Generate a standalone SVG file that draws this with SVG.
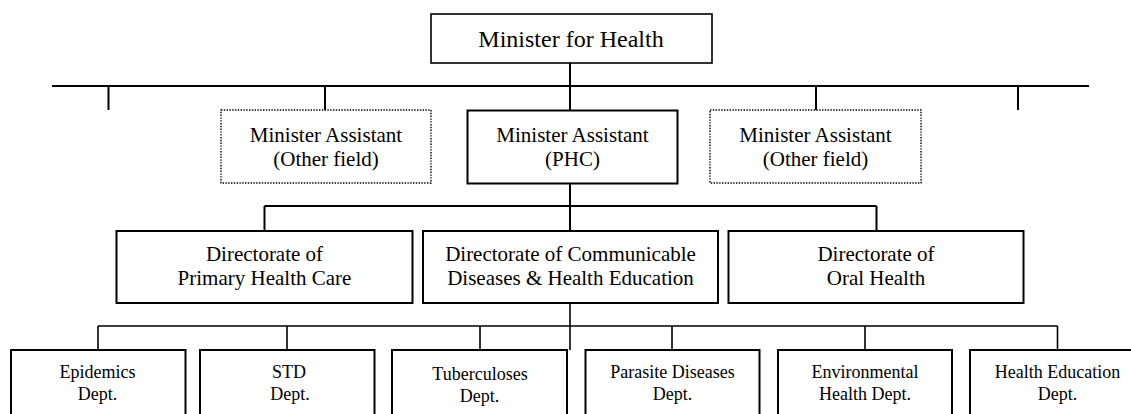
<svg xmlns="http://www.w3.org/2000/svg" width="1131" height="414" viewBox="0 0 1131 414">
<style>
text{font-family:"Liberation Serif","Times New Roman",serif;fill:#000;text-anchor:middle}
.box{fill:#fff;stroke:#000;stroke-width:2}
.thin{fill:#fff;stroke:#000;stroke-width:1.6}
.dot{fill:#fff;stroke:#000;stroke-width:1.4;stroke-dasharray:1.4 1.4}
.ln{fill:none;stroke:#000;stroke-width:2}
.ln2{fill:none;stroke:#000;stroke-width:1.6}
.t24{font-size:24px}
.t21{font-size:21px}
.t18{font-size:18px}
</style>
<rect width="1131" height="414" fill="#fff"/>
<g id="connectors">
<path class="ln" d="M570 63V110 M52 86H1089 M108.5 86V110 M325 86V110 M816 86V110 M1018 86V110"/>
<path class="ln" d="M570 183V231 M264.5 206H876.5 M264.5 206V231 M876.5 206V231"/>
<path class="ln2" d="M570 303V350 M98 326H1057.5 M98 326V350 M287 326V350 M480 326V350 M672 326V350 M865 326V350 M1057.5 326V350"/>
</g>
<g id="minister">
<rect class="thin" x="431" y="14" width="281" height="49"/>
<text class="t24" x="571" y="46.5">Minister for Health</text>
</g>
<g id="assistant-other-left">
<rect class="dot" x="221" y="110" width="210" height="73"/>
<text class="t21" x="326" y="141.5">Minister Assistant</text>
<text class="t21" x="326" y="166">(Other field)</text>
</g>
<g id="assistant-phc">
<rect class="box" x="467.5" y="110.5" width="210" height="73"/>
<text class="t21" x="572.5" y="141.5">Minister Assistant</text>
<text class="t21" x="572.5" y="166">(PHC)</text>
</g>
<g id="assistant-other-right">
<rect class="dot" x="710" y="110" width="211" height="73"/>
<text class="t21" x="815.5" y="141.5">Minister Assistant</text>
<text class="t21" x="815.5" y="166">(Other field)</text>
</g>
<g id="dir-phc">
<rect class="box" x="116.5" y="231" width="296" height="72"/>
<text class="t21" x="264.5" y="260.5">Directorate of</text>
<text class="t21" x="264.5" y="285">Primary Health Care</text>
</g>
<g id="dir-cd">
<rect class="box" x="423" y="231" width="295" height="72"/>
<text class="t21" x="570.5" y="260.5">Directorate of Communicable</text>
<text class="t21" x="570.5" y="285">Diseases &amp; Health Education</text>
</g>
<g id="dir-oral">
<rect class="box" x="728.5" y="231" width="295" height="72"/>
<text class="t21" x="876" y="260.5">Directorate of</text>
<text class="t21" x="876" y="285">Oral Health</text>
</g>
<g id="dept-epidemics">
<rect class="box" x="11" y="350" width="174.5" height="80"/>
<text class="t18" x="97.5" y="378">Epidemics</text>
<text class="t18" x="97.5" y="400">Dept.</text>
</g>
<g id="dept-std">
<rect class="box" x="200" y="350" width="174.5" height="80"/>
<text class="t18" x="289" y="378">STD</text>
<text class="t18" x="290" y="400">Dept.</text>
</g>
<g id="dept-tb">
<rect class="box" x="392" y="350" width="175" height="80"/>
<text class="t18" x="480" y="380">Tuberculoses</text>
<text class="t18" x="479.5" y="402">Dept.</text>
</g>
<g id="dept-parasite">
<rect class="box" x="585.5" y="350" width="174" height="80"/>
<text class="t18" x="672.5" y="378">Parasite Diseases</text>
<text class="t18" x="672.5" y="400">Dept.</text>
</g>
<g id="dept-env">
<rect class="box" x="778" y="350" width="174" height="80"/>
<text class="t18" x="865" y="378">Environmental</text>
<text class="t18" x="865" y="400">Health Dept.</text>
</g>
<g id="dept-hedu">
<rect class="box" x="970" y="350" width="175" height="80"/>
<text class="t18" x="1057.5" y="378">Health Education</text>
<text class="t18" x="1057.5" y="400">Dept.</text>
</g>
</svg>
